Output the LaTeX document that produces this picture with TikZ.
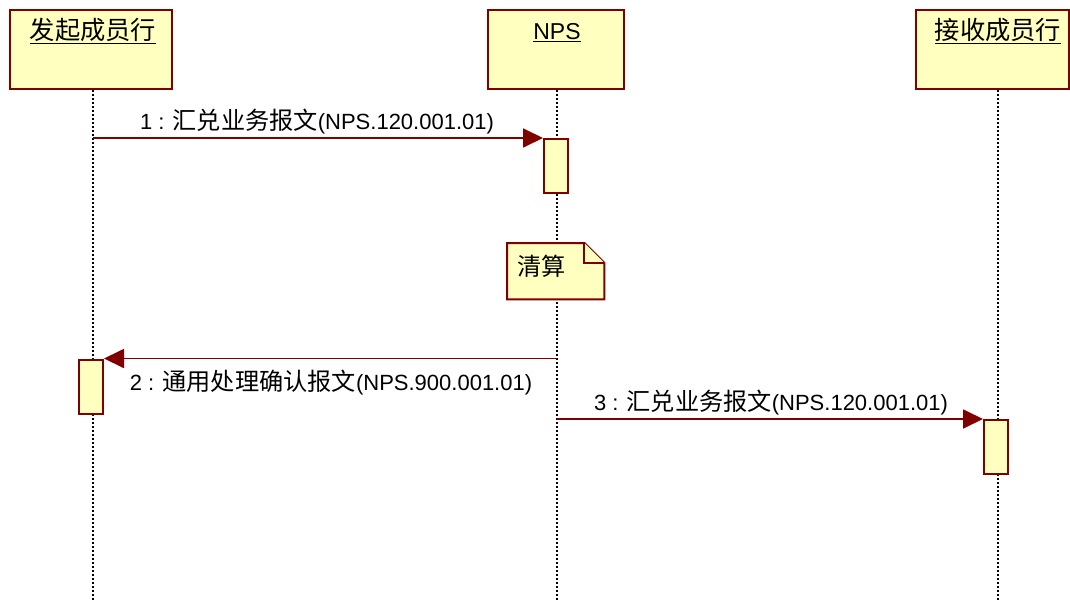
\documentclass[tikz,border=0pt]{standalone}
\usepackage{fontspec}
\setmainfont{Liberation Sans}
\newfontfamily\cjk[Scale=1.1]{Noto Sans CJK SC}
\usetikzlibrary{arrows.meta}
\definecolor{boxfill}{HTML}{FFFFC0}
\definecolor{boxline}{HTML}{800000}
\begin{document}
\begin{tikzpicture}[x=1pt,y=-1pt,
  font=\fontsize{22}{26}\selectfont,
  actor/.style={draw=boxline,fill=boxfill,line width=2.4pt,inner sep=0pt},
  actlabel/.style={inner sep=0pt,anchor=base,font=\fontsize{23}{27}\selectfont},
  activation/.style={draw=boxline,fill=boxfill,line width=2pt,minimum width=24pt,minimum height=54pt,inner sep=0pt},
  lifeline/.style={line width=2pt,black,dash pattern=on 2pt off 2pt},
  msg/.style={draw=boxline,line width=1.8pt,-{Triangle[length=20pt,width=19pt]},color=boxline},
  msglabel/.style={inner sep=0pt,anchor=base,text=black},
  notebox/.style={draw=boxline,fill=boxfill,line width=2pt,line join=miter}]
\useasboundingbox (0,0) rectangle (1070,602);
% actors
\node[actor,minimum width=162pt,minimum height=79pt] (a) at (91,49.5) {};
\node[actor,minimum width=136pt,minimum height=79pt] (b) at (556,49.5) {};
\node[actor,minimum width=153pt,minimum height=79pt] (c) at (992.5,49.5) {};
\node[actlabel] (al) at (93,40) {\underline{\cjk 发起成员行}};
\node[actlabel] (bl) at (557,40) {\underline{NPS}};
\node[actlabel] (cl) at (998,40) {\underline{\cjk 接收成员行}};
% lifelines
\coordinate (abot) at (93,602);
\coordinate (bbot) at (557,602);
\coordinate (cbot) at (998,602);
\draw[lifeline] (a.south -| abot) -- (abot);
\draw[lifeline] (b.south -| bbot) -- (bbot);
\draw[lifeline] (c.south -| cbot) -- (cbot);
% activations
\node[activation] (act1) at (556,166) {};
\node[activation] (act2) at (91,386.5) {};
\node[activation] (act3) at (996,447) {};
% note
\node[minimum width=97pt,minimum height=56pt,inner sep=0pt,anchor=north west] (n) at (507,243) {};
\draw[notebox] (n.north west) -- ([xshift=-20pt]n.north east) -- ([yshift=-20pt]n.north east) -- (n.south east) -- (n.south west) -- cycle;
\draw[notebox] ([xshift=-20pt]n.north east) -- ([xshift=-20pt,yshift=-20pt]n.north east) -- ([yshift=-20pt]n.north east);
\node[inner sep=0pt,anchor=base west] (nt) at (517,275) {\cjk 清算};
% messages
\draw[msg] (abot |- act1.north west) -- (act1.north west);
\node[msglabel] (m1) at (317,129) {1 : {\cjk 汇兑业务报文}(NPS.120.001.01)};
\draw[msg] (bbot |- act2.north east) -- (act2.north east);
\node[msglabel] (m2) at (331,390) {2 : {\cjk 通用处理确认报文}(NPS.900.001.01)};
\draw[msg] (bbot |- act3.north west) -- (act3.north west);
\node[msglabel] (m3) at (771,410) {3 : {\cjk 汇兑业务报文}(NPS.120.001.01)};
\end{tikzpicture}
\end{document}
